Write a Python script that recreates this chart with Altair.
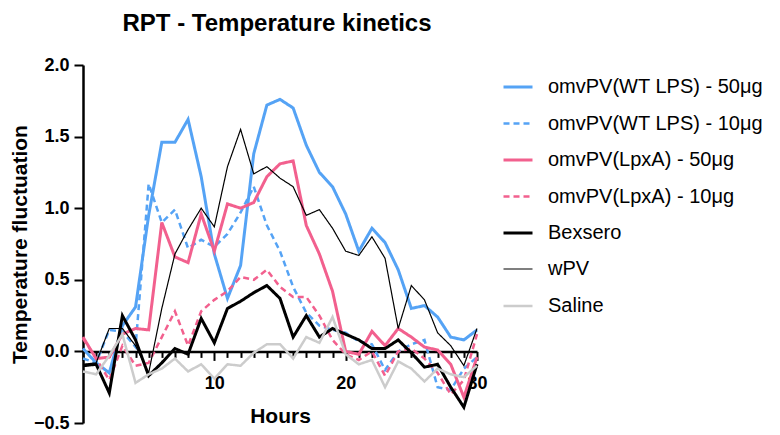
import altair as alt
import pandas as pd

hours = list(range(31))

series_names = [
    "omvPV(WT LPS) - 50μg",
    "omvPV(WT LPS) - 10μg",
    "omvPV(LpxA) - 50μg",
    "omvPV(LpxA) - 10μg",
    "Bexsero",
    "wPV",
    "Saline",
]

wt_lps_50 = [0.02, -0.08, -0.15, 0.18, 0.31, 0.95, 1.46, 1.46, 1.62, 1.22, 0.68,
             0.37, 0.60, 1.38, 1.72, 1.76, 1.70, 1.44, 1.25, 1.15, 0.96,
             0.70, 0.86, 0.76, 0.57, 0.30, 0.32, 0.24, 0.10, 0.08, 0.15]
wt_lps_10 = [-0.05, -0.08, 0.15, 0.14, 0.03, 1.17, 0.90, 0.99, 0.72, 0.78, 0.73,
             0.82, 0.97, 1.15, 0.88, 0.70, 0.45, 0.27, 0.18, 0.15, 0.13,
             0.07, 0.05, -0.13, 0.00, 0.05, 0.08, -0.25, -0.27, -0.12, -0.04]
lpxa_50 = [0.10, -0.05, -0.04, 0.12, 0.16, 0.15, 0.90, 0.66, 0.62, 0.96, 0.70,
           1.03, 1.00, 1.04, 1.22, 1.31, 1.33, 0.88, 0.68, 0.42, 0.00,
           -0.02, 0.14, 0.04, 0.16, 0.10, 0.03, 0.01, -0.09, -0.32, -0.04]
lpxa_10 = [0.09, -0.05, -0.20, 0.04, -0.10, -0.08, 0.10, 0.28, 0.04, 0.28, 0.36,
           0.42, 0.52, 0.50, 0.57, 0.45, 0.38, 0.38, 0.25, 0.08, -0.02,
           -0.06, 0.00, -0.17, 0.00, 0.02, -0.05, -0.15, -0.30, -0.20, 0.12]
bexsero = [-0.10, -0.09, -0.29, 0.25, 0.08, -0.17, -0.08, 0.02, -0.02, 0.23, 0.06,
           0.30, 0.35, 0.41, 0.46, 0.37, 0.10, 0.25, 0.10, 0.16, 0.12,
           0.08, 0.02, 0.02, 0.08, -0.01, -0.11, -0.09, -0.25, -0.39, -0.09]
wpv = [-0.09, -0.08, 0.16, 0.16, 0.04, -0.15, 0.30, 0.68, 0.85, 1.00, 0.87,
       1.29, 1.55, 1.24, 1.29, 1.21, 1.15, 0.95, 0.99, 0.86, 0.70,
       0.67, 0.80, 0.65, 0.16, 0.46, 0.36, 0.13, 0.04, -0.10, 0.16]
saline = [-0.14, -0.16, -0.03, 0.12, -0.22, -0.16, -0.12, -0.05, -0.14, -0.09, -0.19,
          -0.09, -0.10, -0.01, 0.05, 0.05, -0.05, 0.10, 0.06, 0.24, -0.02,
          -0.09, -0.06, -0.25, -0.07, -0.12, -0.21, -0.12, -0.16, -0.18, -0.10]

y_ticks = [-0.5, 0.0, 0.5, 1.0, 1.5, 2.0]

colors = ["#55A3F5", "#55A3F5", "#F2608E", "#F2608E", "#000000", "#000000", "#CCCCCC"]
dashes = [[1, 0], [6, 4], [1, 0], [6, 4], [1, 0], [1, 0], [1, 0]]
widths = [3, 2.5, 3, 2.5, 3, 1.2, 2.5]

all_values = [wt_lps_50, wt_lps_10, lpxa_50, lpxa_10, bexsero, wpv, saline]
rows = []
for name, vals in zip(series_names, all_values):
    for h, v in zip(hours, vals):
        rows.append({"Hours": h, "value": v, "series": name})
df = pd.DataFrame(rows)

FONT = "Liberation Sans"

legend = alt.Legend(
    title=None,
    orient="none",
    legendX=419,
    legendY=6,
    symbolType="stroke",
    symbolSize=841,
    labelFontSize=20,
    labelFont=FONT,
    labelColor="#000000",
    labelOffset=14,
    rowPadding=10.5,
    padding=0,
    labelLimit=400,
)

chart = alt.Chart(df).mark_line(strokeJoin="miter").encode(
    x=alt.X(
        "Hours:Q",
        scale=alt.Scale(domain=[0, 30], nice=False, zero=False),
        axis=alt.Axis(
            title="Hours",
            values=hours,
            offset=-71.6,
            labelExpr="datum.value % 10 == 0 && datum.value > 0 ? datum.label : ''",
            labelOverlap=False,
            labelFlush=False,
            labelFont=FONT,
            labelFontSize=18,
            labelFontWeight="bold",
            labelColor="#000000",
            labelPadding=14,
            tickSize={"condition": {"test": "datum.value % 10 == 0", "value": 9}, "value": 6},
            tickWidth=2,
            tickColor="#000000",
            domainWidth=2.5,
            domainColor="#000000",
            grid=False,
            titleFont=FONT,
            titleFontSize=21,
            titleFontWeight="bold",
            titleColor="#000000",
            titlePadding=13,
            zindex=0,
        ),
    ),
    y=alt.Y(
        "value:Q",
        scale=alt.Scale(domain=[-0.5, 2.0], nice=False, zero=False),
        axis=alt.Axis(
            title="Temperature fluctuation",
            values=y_ticks,
            format=".1f",
            labelFont=FONT,
            labelFontSize=18,
            labelFontWeight="bold",
            labelColor="#000000",
            labelPadding=5,
            tickSize=9,
            tickWidth=2,
            tickColor="#000000",
            domainWidth=2.5,
            domainColor="#000000",
            grid=False,
            titleFont=FONT,
            titleFontSize=21,
            titleFontWeight="bold",
            titleColor="#000000",
            titlePadding=3,
            zindex=0,
        ),
    ),
    color=alt.Color("series:N", sort=series_names,
                    scale=alt.Scale(domain=series_names, range=colors), legend=legend),
    strokeDash=alt.StrokeDash("series:N", sort=series_names,
                              scale=alt.Scale(domain=series_names, range=dashes), legend=legend),
    strokeWidth=alt.StrokeWidth("series:N", sort=series_names,
                                scale=alt.Scale(type="ordinal", domain=series_names, range=widths),
                                legend=legend),
).properties(
    width=394,
    height=358,
    title=alt.TitleParams(
        "RPT - Temperature kinetics",
        font=FONT,
        fontSize=24,
        fontWeight="bold",
        color="#000000",
        anchor="middle",
        dx=-3,
        offset=20,
    ),
    padding={"left": 75, "top": 57, "right": 295, "bottom": 12},
    autosize=alt.AutoSizeParams(type="none"),
).configure_view(stroke=None).configure_legend(
    labelFontSize=20,
    labelFont=FONT,
    labelColor="#000000",
)

chart.save("out.html", embed_options={"renderer": "svg", "actions": False})
